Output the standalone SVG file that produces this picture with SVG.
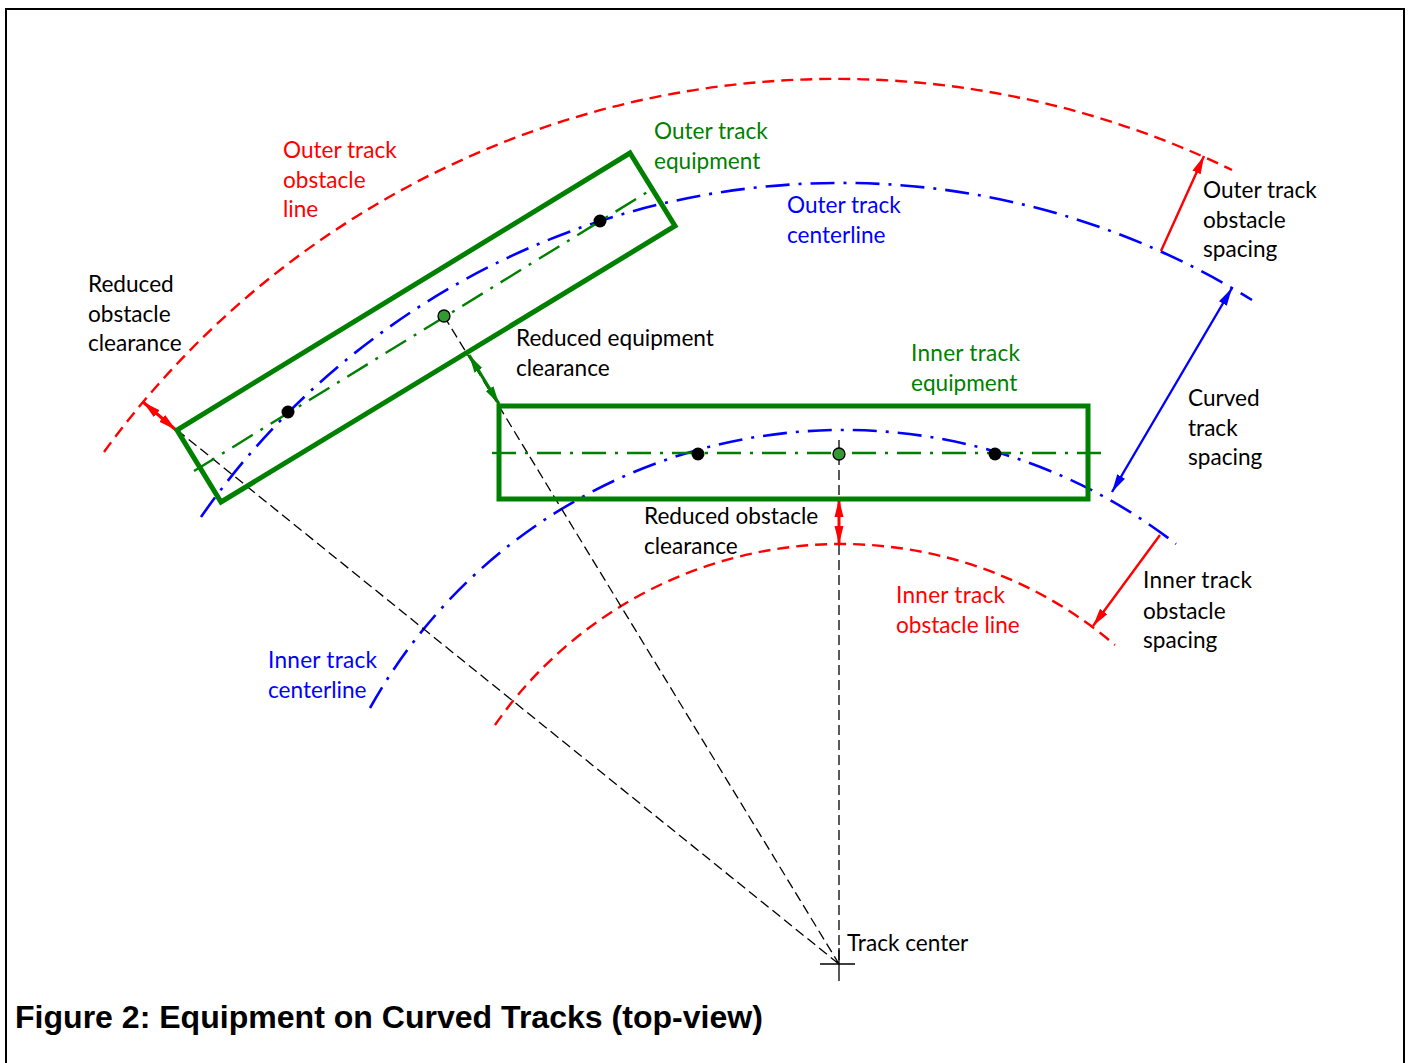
<svg xmlns="http://www.w3.org/2000/svg" width="1411" height="1063" viewBox="0 0 1411 1063">
<style>
.t{font-family:"Lato","Liberation Sans",sans-serif;font-size:22.6px}
.k{fill:#000}.r{fill:#ff0000}.g{fill:#008000}.b{fill:#0000ff}
.red{fill:none;stroke:#ff0000;stroke-width:2.4;stroke-dasharray:12 7}
.blue{fill:none;stroke:#0000ff;stroke-width:2.6;stroke-dasharray:24 9 3 9}
.gc{fill:none;stroke:#008000;stroke-width:2.4;stroke-dasharray:24 9 3 9}
.box{fill:none;stroke:#008000;stroke-width:5}
.dash{fill:none;stroke:#000;stroke-width:1.3;stroke-dasharray:10 5}
.dot{fill:#000}
.gdot{fill:#339933;stroke:#000;stroke-width:1.3}
</style>
<defs>
<marker id="ar" markerUnits="userSpaceOnUse" markerWidth="20" markerHeight="12" refX="18" refY="6" orient="auto-start-reverse"><path d="M0 1.5L18 6L0 10.5Z" fill="#ff0000"/></marker>
<marker id="ab" markerUnits="userSpaceOnUse" markerWidth="20" markerHeight="12" refX="18" refY="6" orient="auto-start-reverse"><path d="M0 1.5L18 6L0 10.5Z" fill="#0000ff"/></marker>
<marker id="ag" markerUnits="userSpaceOnUse" markerWidth="20" markerHeight="12" refX="18" refY="6" orient="auto-start-reverse"><path d="M0 1.5L18 6L0 10.5Z" fill="#008000"/></marker>
</defs>
<rect width="1411" height="1063" fill="#fff"/>
<rect id="frame" x="6" y="9" width="1398" height="1070" fill="none" stroke="#000" stroke-width="2"/>
<g id="connectors">
<path class="red" d="M104 452A905 905 0 0 1 1232 170"/>
<path class="blue" d="M201 517A780 780 0 0 1 1252 300"/>
<path class="blue" d="M370 708A542 542 0 0 1 1176 544"/>
<path class="red" d="M495 725A421.6 421.6 0 0 1 1115 645"/>
<path class="dash" d="M177 430L839 964M444 316L839 964M839 440V964"/>
<path d="M820 964H855M839 948V981" fill="none" stroke="#000" stroke-width="1.3"/>
<path class="gc" d="M194 471L654 188"/>
<path class="gc" d="M492 453H1101"/>
<path d="M143 402L176 430" fill="none" stroke="#ff0000" stroke-width="3" marker-start="url(#ar)" marker-end="url(#ar)"/>
<path d="M839 499V544" fill="none" stroke="#ff0000" stroke-width="3" marker-start="url(#ar)" marker-end="url(#ar)"/>
<path d="M469 355L499 404" fill="none" stroke="#008000" stroke-width="3.2" marker-start="url(#ag)" marker-end="url(#ag)"/>
<path d="M1161 251L1204 156" fill="none" stroke="#ff0000" stroke-width="2.4" marker-end="url(#ar)"/>
<path d="M1160 535L1093 626" fill="none" stroke="#ff0000" stroke-width="2.4" marker-end="url(#ar)"/>
<path d="M1232 288L1112 492" fill="none" stroke="#0000ff" stroke-width="2.4" marker-start="url(#ab)" marker-end="url(#ab)"/>
</g>
<g id="outer-equipment">
<path class="box" d="M630 153L675 226L221 502L177 430Z"/>
<circle class="dot" cx="288" cy="412" r="6.5"/>
<circle class="dot" cx="600" cy="221" r="6.5"/>
<circle class="gdot" cx="444" cy="316" r="6"/>
</g>
<g id="inner-equipment">
<rect class="box" x="499" y="406" width="589" height="93"/>
<circle class="dot" cx="698" cy="454" r="6.5"/>
<circle class="dot" cx="995" cy="454" r="6.5"/>
<circle class="gdot" cx="839" cy="454" r="6"/>
</g>
<g id="labels">
<text class="t r"><tspan x="283" y="158">Outer track</tspan><tspan x="283" y="188">obstacle</tspan><tspan x="283" y="217">line</tspan></text>
<text class="t k"><tspan x="88" y="292">Reduced</tspan><tspan x="88" y="322">obstacle</tspan><tspan x="88" y="351">clearance</tspan></text>
<text class="t g"><tspan x="654" y="139">Outer track</tspan><tspan x="654" y="169">equipment</tspan></text>
<text class="t b"><tspan x="787" y="213">Outer track</tspan><tspan x="787" y="243">centerline</tspan></text>
<text class="t k"><tspan x="1203" y="198">Outer track</tspan><tspan x="1203" y="228">obstacle</tspan><tspan x="1203" y="257">spacing</tspan></text>
<text class="t k"><tspan x="516" y="346">Reduced equipment</tspan><tspan x="516" y="376">clearance</tspan></text>
<text class="t g"><tspan x="911" y="361" textLength="109">Inner track</tspan><tspan x="911" y="391">equipment</tspan></text>
<text class="t k"><tspan x="1188" y="406">Curved</tspan><tspan x="1188" y="436">track</tspan><tspan x="1188" y="465">spacing</tspan></text>
<text class="t k"><tspan x="644" y="524">Reduced obstacle</tspan><tspan x="644" y="554">clearance</tspan></text>
<text class="t r"><tspan x="896" y="603" textLength="109">Inner track</tspan><tspan x="896" y="633">obstacle line</tspan></text>
<text class="t k"><tspan x="1143" y="588" textLength="109">Inner track</tspan><tspan x="1143" y="619">obstacle</tspan><tspan x="1143" y="648">spacing</tspan></text>
<text class="t b"><tspan x="268" y="668" textLength="109">Inner track</tspan><tspan x="268" y="698">centerline</tspan></text>
<text class="t k" x="847" y="951">Track center</text>
<text x="15" y="1028" font-family="Liberation Sans, sans-serif" font-weight="700" font-size="32.05" fill="#000">Figure 2: Equipment on Curved Tracks (top-view)</text>
</g>
</svg>
